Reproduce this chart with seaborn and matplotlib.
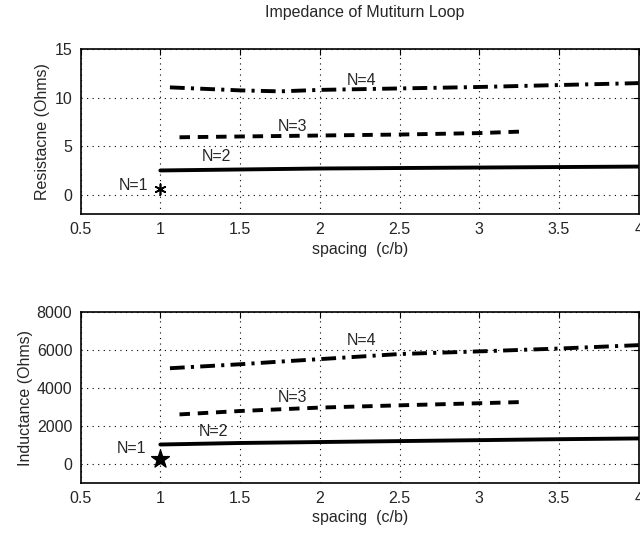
import matplotlib
matplotlib.use("Agg")
import matplotlib.pyplot as plt
import seaborn as sns

# ---- data ----
x1 = [1.0]
R1 = [0.6]
L1 = [230]

x2 = [1.0, 1.5, 2.0, 2.5, 3.0, 3.5, 4.0]
R2 = [2.5, 2.6, 2.7, 2.75, 2.8, 2.85, 2.9]
L2 = [1020, 1100, 1150, 1200, 1250, 1300, 1340]

x3 = [1.12, 1.5, 2.0, 2.5, 3.0, 3.25]
R3 = [5.92, 6.0, 6.1, 6.2, 6.35, 6.5]
L3 = [2610, 2790, 2970, 3090, 3200, 3260]

x4 = [1.06, 1.5, 1.75, 2.0, 2.5, 3.0, 3.5, 4.0]
R4 = [11.06, 10.75, 10.65, 10.8, 10.95, 11.1, 11.3, 11.5]
L4 = [5050, 5260, 5400, 5530, 5800, 5940, 6090, 6270]

xticks = [0.5, 1, 1.5, 2, 2.5, 3, 3.5, 4]
xticklabels = ["0.5", "1", "1.5", "2", "2.5", "3", "3.5", "4"]
r_yticks = [0, 5, 10, 15]
l_yticks = [0, 2000, 4000, 6000, 8000]

title = "Impedance of Mutiturn Loop"
xlabel = "spacing  (c/b)"
r_ylabel = "Resistacne (Ohms)"
l_ylabel = "Inductance (Ohms)"

# labels (text, x, y)
r_labels = [("N=1", 0.83, 1.0), ("N=2", 1.35, 3.9), ("N=3", 1.83, 7.0), ("N=4", 2.26, 11.8)]
l_labels = [("N=1", 0.82, 800), ("N=2", 1.33, 1730), ("N=3", 1.83, 3500), ("N=4", 2.26, 6500)]

sns.set_style("white")
plt.rcParams['font.family'] = ['Liberation Sans', 'DejaVu Sans']
FS = 11.5

fig = plt.figure(figsize=(6.4, 5.34), dpi=100)
ax1 = fig.add_axes([0.126, 0.599, 0.872, 0.309])
ax2 = fig.add_axes([0.126, 0.096, 0.872, 0.319])

def draw(ax, y2, y3, y4, y1, ylim, yticks, ylabel, labels, star_marker, star_size, star_fill):
    lw = 2.8
    sns.lineplot(x=x2, y=y2, ax=ax, color="black", lw=lw, estimator=None, sort=False)
    sns.lineplot(x=x3, y=y3, ax=ax, color="black", lw=lw, estimator=None, sort=False)
    ax.lines[-1].set_dashes((2.7, 2.0))
    sns.lineplot(x=x4, y=y4, ax=ax, color="black", lw=lw, estimator=None, sort=False)
    ax.lines[-1].set_dashes((3.8, 1.6, 0.8, 1.6))
    sns.scatterplot(x=x1, y=y1, ax=ax, marker=star_marker, s=star_size,
                    color="black", edgecolor="black", linewidth=1 if star_fill else 1.2, zorder=5)
    for t, tx, ty in labels:
        ax.text(tx, ty, t, ha="center", va="center", fontsize=FS)
    ax.set_xlim(0.5, 4)
    ax.set_ylim(*ylim)
    ax.set_xticks(xticks)
    ax.set_xticklabels(xticklabels)
    ax.set_yticks(yticks)
    ax.set_yticklabels([str(v) for v in yticks])
    ax.grid(True, color="black", linestyle=(0, (1, 4)), linewidth=0.8)
    ax.tick_params(direction="in", top=True, right=True, length=4, width=0.8,
                   labelsize=FS, color="black", pad=6)
    for s in ax.spines.values():
        s.set_color("black")
        s.set_linewidth(1.2)
    ax.set_xlabel(xlabel, fontsize=FS, labelpad=3)
    ax.set_ylabel(ylabel, fontsize=FS, labelpad=3)

draw(ax1, R2, R3, R4, R1, (-2, 15), r_yticks, r_ylabel, r_labels, (6, 2, 0), 60, False)
draw(ax2, L2, L3, L4, L1, (-1000, 8000), l_yticks, l_ylabel, l_labels, "*", 180, True)

fig.text(0.57, 0.976, title, ha="center", va="center", fontsize=FS)

fig.savefig("out.png", dpi=100)
